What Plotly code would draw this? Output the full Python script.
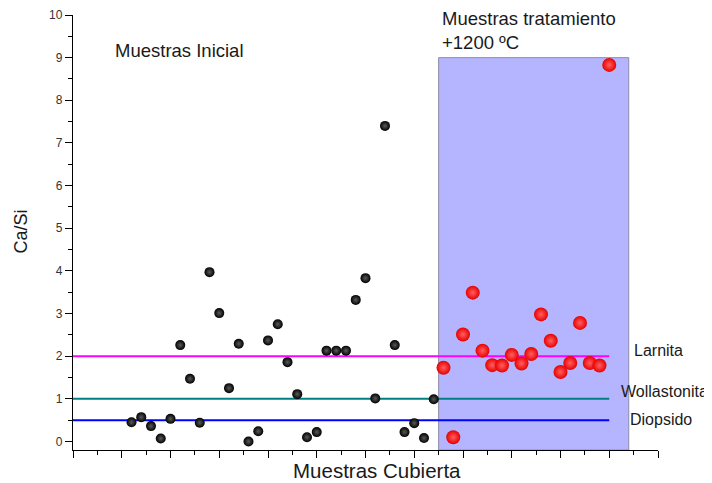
import plotly.graph_objects as go

# --- data ---------------------------------------------------------------
inicial_x = list(range(6, 38))
inicial_ca_si = [0.45, 0.57, 0.36, 0.07, 0.53, 2.26, 1.47, 0.44, 3.97, 3.01,
                 1.25, 2.29, 0.00, 0.24, 2.37, 2.75, 1.86, 1.11, 0.10, 0.22,
                 2.13, 2.13, 2.13, 3.32, 3.83, 1.01, 7.40, 2.26, 0.22, 0.43,
                 0.08, 0.99]

tratamiento_x = list(range(38, 56))
tratamiento_ca_si = [1.73, 0.10, 2.51, 3.49, 2.13, 1.79, 1.78, 2.03, 1.83,
                     2.05, 2.98, 2.36, 1.63, 1.84, 2.78, 1.84, 1.78, 8.83]

ref_names = ["Larnita", "Wollastonita", "Diopsido"]
ref_values = [2.0, 1.0, 0.5]
ref_x_extent = [0, 55]

treat_region_x = [37.5, 57]
treat_region_top = 9

x_range = [0, 60]
y_range = [-0.2, 10]

# --- styles -------------------------------------------------------------
ref_colors = ["#ff00ff", "#008080", "#0000ff"]
FONT = "Liberation Sans, Arial, sans-serif"

fig = go.Figure()

for name, val, col in zip(ref_names, ref_values, ref_colors):
    fig.add_trace(go.Scatter(
        x=ref_x_extent, y=[val, val], mode="lines",
        line=dict(color=col, width=2), name=name, hoverinfo="skip"))

fig.add_trace(go.Scatter(
    x=inicial_x, y=inicial_ca_si, mode="markers", name="Muestras Inicial",
    marker=dict(size=10, color="#000000",
                gradient=dict(type="radial", color="#5a5a5a"),
                line=dict(width=0))))

fig.add_trace(go.Scatter(
    x=tratamiento_x, y=tratamiento_ca_si, mode="markers",
    name="Muestras tratamiento",
    marker=dict(size=14, color="#e80000",
                gradient=dict(type="radial", color="#ff6060"),
                line=dict(width=0))))

fig.add_shape(type="rect", xref="x", yref="y",
              x0=treat_region_x[0], x1=treat_region_x[1],
              y0=y_range[0], y1=treat_region_top,
              fillcolor="#b4b4ff", line=dict(color="#8c8ca8", width=1),
              layer="below")

def txt(text, x, y, size=17, xanchor="left", yanchor="middle", angle=0,
        align="left"):
    fig.add_annotation(text=text, x=x, y=y, xref="paper", yref="paper",
                       showarrow=False, xanchor=xanchor, yanchor=yanchor,
                       textangle=angle, align=align,
                       font=dict(family=FONT, size=size, color="#1a1a1a"))

txt("Muestras Inicial", 0.0678, 0.9195, size=18.5)
txt("Muestras tratamiento<br>+1200 ºC", 0.628, 0.9655, size=18.5)
txt("Larnita", 0.956, 0.2276, size=16)
txt("Wollastonita", 0.934, 0.134, size=16)
txt("Diopsido", 0.949, 0.069, size=16)
txt("Muestras Cubierta", 0.519, -0.046, size=20.5, xanchor="center")
txt("Ca/Si", -0.0885, 0.503, size=18, xanchor="center", angle=-90)

# page body has an 8px margin: size the figure so it fills the window
fig.update_layout(
    width=704, height=475,
    margin=dict(l=65, r=54, t=7, b=33, autoexpand=False),
    paper_bgcolor="white", plot_bgcolor="white",
    showlegend=False,
    font=dict(family=FONT, color="#333333"),
)

fig.update_xaxes(
    range=x_range, showgrid=False, zeroline=False, showticklabels=False,
    showline=True, linecolor="black", linewidth=1.3,
    ticks="outside", tickmode="linear", tick0=0, dtick=5, ticklen=7,
    tickwidth=1.3, tickcolor="black",
    minor=dict(ticks="outside", dtick=2.5, ticklen=4, tickwidth=1.3,
               tickcolor="black", showgrid=False),
)
fig.update_yaxes(
    range=y_range, showgrid=False, zeroline=False,
    showline=True, linecolor="black", linewidth=1.3,
    ticks="outside", tickmode="linear", tick0=0, dtick=1, ticklen=7,
    tickwidth=1.3, tickcolor="black",
    tickfont=dict(family=FONT, size=12, color="#333333"),
    minor=dict(ticks="outside", dtick=0.5, ticklen=4, tickwidth=1.3,
               tickcolor="black", showgrid=False),
)

fig.write_html("out.html")
